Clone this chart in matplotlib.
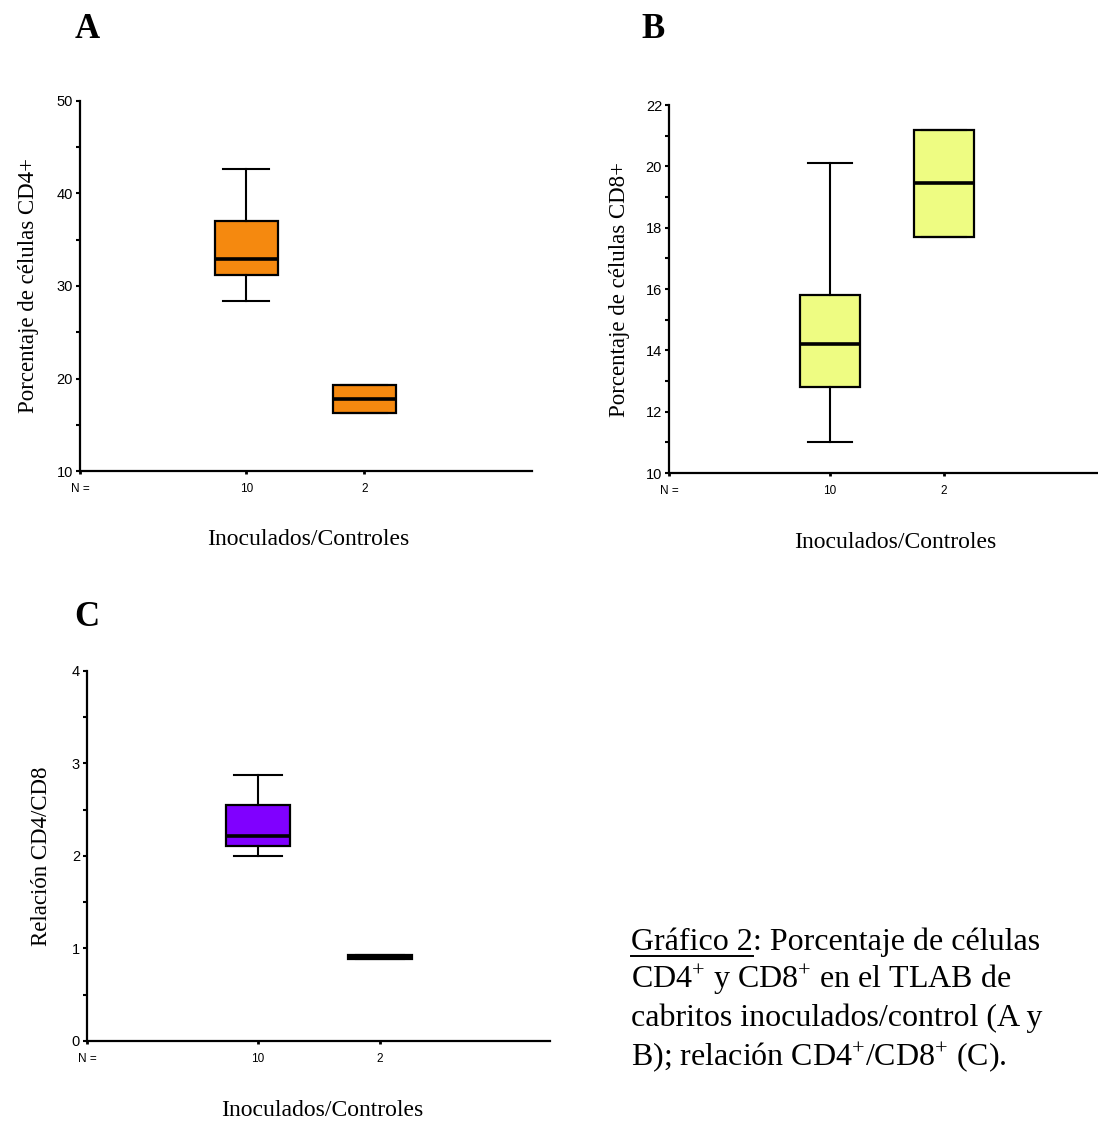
import numpy as np
import matplotlib
matplotlib.use('Agg')
from matplotlib import pyplot as plt
from matplotlib.ticker import MultipleLocator
from matplotlib.lines import Line2D

plt.rcParams['mathtext.fontset'] = 'custom'
plt.rcParams['mathtext.rm'] = 'Liberation Serif'
plt.rcParams['mathtext.it'] = 'Liberation Serif'

# five-number summaries: whisker low, q1, median, q3, whisker high
group_n = ['10', '2']
cd4_inoc = [28.4, 31.2, 32.9, 37.0, 42.6]
cd4_ctrl = [16.3, 16.3, 17.8, 19.3, 19.3]
cd8_inoc = [11.0, 12.8, 14.2, 15.8, 20.1]
cd8_ctrl = [17.7, 17.7, 19.45, 21.2, 21.2]
ratio_inoc = [2.0, 2.11, 2.22, 2.55, 2.88]
ratio_ctrl = [0.885, 0.885, 0.905, 0.925, 0.925]

serif = 'Liberation Serif'
sans = 'Liberation Sans'

fig = plt.figure(figsize=(10.98, 11.22), dpi=100)


def panel(rect, summaries, color, ylim, major, minor, xlim, ylabel, pad):
    ax = fig.add_axes(rect)
    stats = []
    for s in summaries:
        stats.append(dict(whislo=s[0], q1=s[1], med=s[2], q3=s[3], whishi=s[4], fliers=[]))
    ax.bxp(stats, positions=[1, 2], widths=0.53, capwidths=0.39, patch_artist=True,
           showfliers=False,
           boxprops=dict(facecolor=color, edgecolor='black', linewidth=1.6),
           medianprops=dict(color='black', linewidth=2.6),
           whiskerprops=dict(color='black', linewidth=1.5),
           capprops=dict(color='black', linewidth=1.5))
    ax.set_xlim(*xlim)
    ax.set_ylim(*ylim)
    ax.yaxis.set_major_locator(MultipleLocator(major))
    ax.yaxis.set_minor_locator(MultipleLocator(minor))
    ax.set_xticks([xlim[0], 1, 2])
    ax.set_xticklabels(['N =', group_n[0], group_n[1]], fontfamily=sans, fontsize=8.5)
    for lab in ax.get_yticklabels():
        lab.set_fontfamily(sans)
        lab.set_fontsize(10.5)
    ax.tick_params(axis='y', which='both', direction='out', length=3, width=1.5, pad=2)
    ax.tick_params(axis='x', direction='out', length=2.5, width=2, pad=6)
    for side in ['top', 'right']:
        ax.spines[side].set_visible(False)
    for side in ['left', 'bottom']:
        ax.spines[side].set_linewidth(1.6)
    ax.set_ylabel(ylabel, fontfamily=serif, fontsize=16.5, labelpad=pad)
    return ax


ax_a = panel([0.0729, 0.5802, 0.4117, 0.3298], [cd4_inoc, cd4_ctrl], '#F5890F',
             (10, 50), 10, 5, (-0.407, 3.42), 'Porcentaje de células CD4+', 13)
ax_b = panel([0.6093, 0.5784, 0.3907, 0.328], [cd8_inoc, cd8_ctrl], '#EEFC82',
             (10, 22), 2, 1, (-0.412, 3.35), 'Porcentaje de células CD8+', 11)
ax_c = panel([0.0792, 0.0722, 0.4217, 0.3298], [ratio_inoc, ratio_ctrl], '#8000FF',
             (0, 4), 1, 0.5, (-0.402, 3.393), 'Relación CD4/CD8', 14)

# x labels
for px, py in [(308, 540), (895, 542), (322, 1110)]:
    fig.text(px / 1098, 1 - py / 1122, 'Inoculados/Controles', fontfamily=serif,
             fontsize=17, ha='center', va='center')

# panel letters
for letter, px, py in [('A', 87, 30), ('B', 653, 30), ('C', 87, 617)]:
    fig.text(px / 1098, 1 - py / 1122, letter, fontfamily=serif, fontweight='bold',
             fontsize=25, ha='center', va='center')

# caption
cap_x = 631 / 1098
cap_size = 23
t1 = fig.text(cap_x, 1 - 942 / 1122, 'Gráfico 2', fontfamily=serif, fontsize=cap_size,
              va='center', ha='left')
fig.canvas.draw()
bb = t1.get_window_extent()
fig.text(bb.x1 / 1098, 1 - 942 / 1122, ': Porcentaje de células', fontfamily=serif,
         fontsize=cap_size, va='center', ha='left')
uy = 1 - 956 / 1122
fig.add_artist(Line2D([bb.x0 / 1098, bb.x1 / 1098], [uy, uy], color='black', linewidth=1.4))

lines = ['CD4$^{+}$ y CD8$^{+}$ en el TLAB de',
         'cabritos inoculados/control (A y',
         'B); relación CD4$^{+}$/CD8$^{+}$ (C).']
for i, line in enumerate(lines):
    fig.text(cap_x, 1 - (980 + 38.5 * i) / 1122, line, fontfamily=serif, fontsize=cap_size,
             va='center', ha='left')

fig.savefig('out.png', dpi=100)
